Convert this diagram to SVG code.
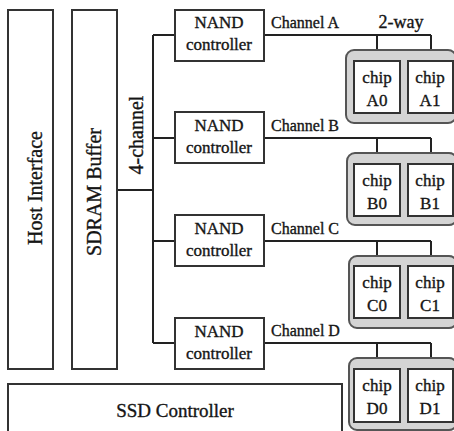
<svg xmlns="http://www.w3.org/2000/svg" width="454" height="431" viewBox="0 0 454 431" font-family="'Liberation Serif','Times New Roman',serif">
<style>
.box{fill:#fff;stroke:#333;stroke-width:2}
.grp{fill:#d4d4d4;stroke:#555;stroke-width:2}
.ln{fill:none;stroke:#222;stroke-width:2}
text{font-family:"Liberation Serif","Times New Roman",serif;fill:#151515;stroke:#151515;stroke-width:0.35;font-size:17px;text-anchor:middle}
.lbl{text-anchor:start;font-size:16px}
.big{font-size:20px}
</style>
<rect width="454" height="431" fill="#fff"/>
<g id="connectors">
<path class="ln" d="M117,190H153M153,35V343M153,35H175M153,138H175M153,241H175M153,343H175"/>
<path class="ln" d="M264,35H431M377,35V61M431,35V61"/>
<path class="ln" d="M264,138H431M377,138V164M431,138V164"/>
<path class="ln" d="M264,241H431M377,241V266M431,241V266"/>
<path class="ln" d="M264,343H431M377,343V369M431,343V369"/>
</g>
<g id="host"><rect class="box" x="8" y="10" width="45" height="359"/><text class="big" transform="translate(42,188) rotate(-90)">Host Interface</text></g>
<g id="sdram"><rect class="box" x="72" y="10" width="45" height="359"/><text class="big" transform="translate(101,192) rotate(-90)">SDRAM Buffer</text></g>
<g id="label-4ch"><text class="big" transform="translate(143,135) rotate(-90)">4-channel</text></g>
<g id="ssd"><rect class="box" x="8" y="384" width="334" height="60"/><text x="175" y="417" font-size="19" style="font-size:19px">SSD Controller</text></g>
<g id="nandA"><rect class="box" x="175" y="10" width="89" height="51"/><text x="219" y="28">NAND</text><text x="219" y="50">controller</text></g>
<g id="nandB"><rect class="box" x="175" y="112" width="89" height="51"/><text x="219" y="131">NAND</text><text x="219" y="153">controller</text></g>
<g id="nandC"><rect class="box" x="175" y="215" width="89" height="51"/><text x="219" y="234">NAND</text><text x="219" y="256">controller</text></g>
<g id="nandD"><rect class="box" x="175" y="318" width="89" height="51"/><text x="219" y="337">NAND</text><text x="219" y="359">controller</text></g>
<g id="labels">
<text class="lbl" x="271" y="28">Channel A</text>
<text x="401" y="28" style="font-size:18px">2-way</text>
<text class="lbl" x="271" y="131">Channel B</text>
<text class="lbl" x="271" y="234">Channel C</text>
<text class="lbl" x="271" y="336">Channel D</text>
</g>
<g id="wayA"><rect class="grp" x="346" y="50" width="110" height="73" rx="8"/>
<rect class="box" x="354" y="61" width="46" height="52"/><text x="377" y="83">chip</text><text x="377" y="106">A0</text>
<rect class="box" x="408" y="61" width="45" height="52"/><text x="430" y="83">chip</text><text x="430" y="106">A1</text></g>
<g id="wayB"><rect class="grp" x="347" y="153" width="110" height="72" rx="8"/>
<rect class="box" x="354" y="164" width="46" height="52"/><text x="377" y="186">chip</text><text x="377" y="209">B0</text>
<rect class="box" x="408" y="164" width="45" height="52"/><text x="430" y="186">chip</text><text x="430" y="209">B1</text></g>
<g id="wayC"><rect class="grp" x="349" y="256" width="108" height="72" rx="8"/>
<rect class="box" x="354" y="266" width="46" height="52"/><text x="377" y="288">chip</text><text x="377" y="311">C0</text>
<rect class="box" x="408" y="266" width="45" height="52"/><text x="430" y="288">chip</text><text x="430" y="311">C1</text></g>
<g id="wayD"><rect class="grp" x="349" y="358" width="108" height="72" rx="8"/>
<rect class="box" x="354" y="369" width="46" height="53"/><text x="377" y="391">chip</text><text x="377" y="414">D0</text>
<rect class="box" x="408" y="369" width="45" height="53"/><text x="430" y="391">chip</text><text x="430" y="414">D1</text></g>
</svg>
